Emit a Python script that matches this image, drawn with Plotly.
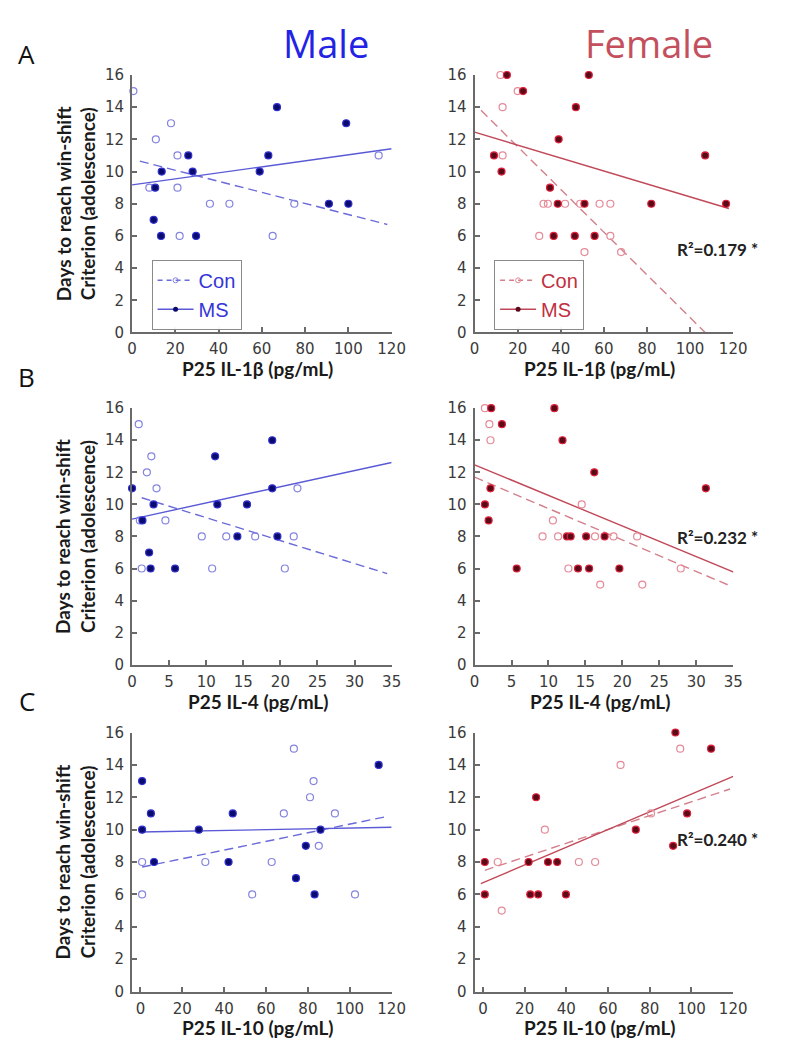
import plotly.graph_objects as go

W, H = 787, 1050

# ---------------- data ----------------
# Panel A : P25 IL-1beta
A_male_con_x = [0.6, 8, 11, 18, 21, 21, 22, 36, 45, 65, 75, 114]
A_male_con_y = [15, 9, 12, 13, 11, 9, 6, 8, 8, 6, 8, 11]
A_male_ms_x = [10, 10.7, 13.4, 13.7, 26, 28, 29.6, 59, 63, 67, 91, 99, 100]
A_male_ms_y = [7, 9, 6, 10, 11, 10, 6, 10, 11, 14, 8, 13, 8]
A_male_con_fit = [3.6, 118, 10.77, -0.0344]   # x start, x end, intercept, slope
A_male_ms_fit = [0, 120, 9.17, 0.0187]

A_female_con_x = [12, 13, 13, 20, 30, 32, 34, 42, 49, 51, 58, 63, 63, 68]
A_female_con_y = [16, 14, 11, 15, 6, 8, 8, 8, 8, 5, 8, 8, 6, 5]
A_female_ms_x = [9, 12.5, 15, 22.5, 35, 36.7, 38.6, 39, 46.5, 47, 51, 53, 55.7, 82, 107, 116.7]
A_female_ms_y = [11, 10, 16, 15, 9, 6, 8, 12, 6, 14, 8, 16, 6, 8, 11, 8]
A_female_con_fit = [3, 107, 14.2, -0.1327]
A_female_ms_fit = [0, 118, 12.45, -0.0402]
A_female_r2 = "R²=0.179 *"

# Panel B : P25 IL-4
B_male_con_x = [0.9, 1.05, 1.3, 2.0, 2.6, 3.3, 4.5, 9.4, 10.8, 12.7, 16.6, 20.6, 21.8, 22.3]
B_male_con_y = [15, 9, 6, 12, 13, 11, 9, 8, 6, 8, 8, 6, 8, 11]
B_male_ms_x = [0, 1.4, 2.3, 2.5, 2.9, 5.8, 11.2, 11.5, 14.2, 15.5, 18.9, 18.9, 19.6]
B_male_ms_y = [11, 9, 7, 6, 10, 6, 13, 10, 8, 10, 14, 11, 8]
B_male_con_fit = [1.3, 34.4, 10.6, -0.143]
B_male_ms_fit = [0, 35, 9.08, 0.101]

B_female_con_x = [1.4, 2.0, 2.15, 9.2, 10.6, 11.3, 12.7, 14.5, 16.3, 17.0, 18.8, 22.0, 22.7, 27.9, 35.2]
B_female_con_y = [16, 15, 14, 8, 9, 8, 6, 10, 8, 5, 8, 8, 5, 6, 11]
B_female_ms_x = [1.4, 1.9, 2.15, 2.25, 3.7, 5.7, 10.8, 11.9, 12.5, 13.0, 14.0, 15.1, 15.5, 16.2, 17.6, 19.6, 31.3]
B_female_ms_y = [10, 9, 11, 16, 15, 6, 16, 14, 8, 8, 6, 8, 6, 12, 8, 6, 11]
B_female_con_fit = [0, 34.8, 11.7, -0.196]
B_female_ms_fit = [0, 35.3, 12.47, -0.191]
B_female_r2 = "R²=0.232 *"

# Panel C : P25 IL-10
C_male_con_x = [0.8, 0.8, 31, 53.4, 62.7, 68.5, 73.3, 81, 82.7, 85.2, 92.9, 102.5]
C_male_con_y = [8, 6, 8, 6, 8, 11, 15, 12, 13, 9, 11, 6]
C_male_ms_x = [0.8, 0.8, 5, 6.5, 27.9, 42.1, 44.1, 74.3, 79, 83.2, 86, 113.8]
C_male_ms_y = [13, 10, 11, 8, 10, 8, 11, 7, 9, 6, 10, 14]
C_male_con_fit = [0.8, 118.5, 7.67, 0.0267]
C_male_ms_fit = [0, 120, 9.85, 0.0025]

C_female_con_x = [7.1, 9, 29.7, 46, 53.8, 66, 80.6, 94.6]
C_female_con_y = [8, 5, 10, 8, 8, 14, 11, 15]
C_female_ms_x = [0.9, 0.9, 21.9, 22.7, 25.5, 26.5, 31.2, 35.6, 39.8, 73.3, 91.2, 92.3, 97.9, 109.4]
C_female_ms_y = [8, 6, 8, 6, 12, 6, 8, 8, 6, 10, 9, 16, 11, 15]
C_female_con_fit = [0.9, 118.5, 7.45, 0.0427]
C_female_ms_fit = [-1, 120, 6.72, 0.0548]
C_female_r2 = "R²=0.240 *"

row_letters = ["A", "B", "C"]
x_titles = ["P25 IL-1β (pg/mL)", "P25 IL-4 (pg/mL)", "P25 IL-10 (pg/mL)"]
x_ranges = [[0, 120], [0, 35], [-4, 120]]
x_ticks = [list(range(0, 121, 20)), list(range(0, 36, 5)), list(range(0, 121, 20))]
y_ticks = list(range(0, 17, 2))
y_title = "<b>Days to reach win-shift<br>Criterion (adolescence)</b>"
sex_titles = ["Male", "Female"]
legend_labels = ["Con", "MS"]

# ---------------- styles / layout geometry ----------------
STY = {
    "male": dict(title="#2323e6", solid="#5a5ad6", dash="#6a6ad8", ms_fill="#0b0b6e",
                 ms_edge="#2f2fd0", con="#8484e0", legend="#3535d8"),
    "female": dict(title="#c4505e", solid="#c04858", dash="#d3808c", ms_fill="#5a0a18",
                   ms_edge="#e0203a", con="#e58a98", legend="#c0303f"),
}

col_px = {"male": (122, 388), "female": (473, 738)}
row_px = [(59, 321), (398, 659), (728, 991.5)]
letter_px = [38, 366, 696]
r2_px = [237, 530, 837]

def fx(p):
    return p / W

def fy(p):
    return 1 - p / H

panels = [
    ("male", 0, A_male_con_x, A_male_con_y, A_male_ms_x, A_male_ms_y, A_male_con_fit, A_male_ms_fit, None),
    ("female", 0, A_female_con_x, A_female_con_y, A_female_ms_x, A_female_ms_y, A_female_con_fit, A_female_ms_fit, A_female_r2),
    ("male", 1, B_male_con_x, B_male_con_y, B_male_ms_x, B_male_ms_y, B_male_con_fit, B_male_ms_fit, None),
    ("female", 1, B_female_con_x, B_female_con_y, B_female_ms_x, B_female_ms_y, B_female_con_fit, B_female_ms_fit, B_female_r2),
    ("male", 2, C_male_con_x, C_male_con_y, C_male_ms_x, C_male_ms_y, C_male_con_fit, C_male_ms_fit, None),
    ("female", 2, C_female_con_x, C_female_con_y, C_female_ms_x, C_female_ms_y, C_female_con_fit, C_female_ms_fit, C_female_r2),
]

fig = go.Figure()
layout = dict(
    width=W, height=H, margin=dict(l=0, r=0, t=0, b=0),
    paper_bgcolor="white", plot_bgcolor="white", showlegend=True,
)
annotations = []

tickfont = dict(family="DejaVu Sans", size=15, color="#3a3a3a")

for i, (sex, row, cx, cy, mx, my, cfit, mfit, r2) in enumerate(panels):
    n = i + 1
    xa = "x" if n == 1 else f"x{n}"
    ya = "y" if n == 1 else f"y{n}"
    s = STY[sex]
    x0p, x1p = col_px[sex]
    y0p, y1p = row_px[row]

    layout["xaxis" if n == 1 else f"xaxis{n}"] = dict(
        domain=[fx(x0p), fx(x1p)], anchor=ya, range=x_ranges[row],
        tickvals=x_ticks[row], showline=True, linecolor="#6a6a6a", linewidth=2,
        ticks="inside", ticklen=5, tickwidth=1.5, tickcolor="#6a6a6a",
        showgrid=False, zeroline=False, tickfont=tickfont, ticklabelstandoff=2,
    )
    layout["yaxis" if n == 1 else f"yaxis{n}"] = dict(
        domain=[fy(y1p), fy(y0p)], anchor=xa, range=[0, 16],
        tickvals=y_ticks, showline=True, linecolor="#6a6a6a", linewidth=2,
        ticks="inside", ticklen=5, tickwidth=1.5, tickcolor="#6a6a6a",
        showgrid=False, zeroline=False, tickfont=tickfont, ticklabelstandoff=3,
    )

    # fit lines
    for fit, dash, col in ((cfit, "9px,5px", s["dash"]), (mfit, "solid", s["solid"])):
        xs = [fit[0], fit[1]]
        ys = [fit[2] + fit[3] * v for v in xs]
        fig.add_trace(go.Scatter(x=xs, y=ys, mode="lines", xaxis=xa, yaxis=ya,
                                 line=dict(color=col, width=1.4, dash=dash),
                                 showlegend=False, hoverinfo="skip", cliponaxis=True))
    # scatter points
    fig.add_trace(go.Scatter(x=cx, y=cy, mode="markers", xaxis=xa, yaxis=ya,
                             marker=dict(symbol="circle-open", size=7, color=s["con"],
                                         line=dict(width=1.2, color=s["con"])),
                             showlegend=False, cliponaxis=False))
    fig.add_trace(go.Scatter(x=mx, y=my, mode="markers", xaxis=xa, yaxis=ya,
                             marker=dict(symbol="circle", size=7, color=s["ms_fill"],
                                         line=dict(width=1.2, color=s["ms_edge"])),
                             showlegend=False, cliponaxis=False))

    # legend entries (row A only)
    if row == 0:
        lg = "legend" if sex == "male" else "legend2"
        fig.add_trace(go.Scatter(x=[None], y=[None], mode="lines+markers", xaxis=xa, yaxis=ya,
                                 name=legend_labels[0], legend=lg,
                                 line=dict(color=s["dash"], width=1.4, dash="5px,4px"),
                                 marker=dict(symbol="circle-open", size=5, color=s["con"])))
        fig.add_trace(go.Scatter(x=[None], y=[None], mode="lines+markers", xaxis=xa, yaxis=ya,
                                 name=legend_labels[1], legend=lg,
                                 line=dict(color=s["solid"], width=1.4),
                                 marker=dict(symbol="circle", size=5, color=s["ms_fill"])))
        layout[lg] = dict(
            x=fx(x0p + 20), y=fy(247), xanchor="left", yanchor="top",
            bordercolor="#8a8a8a", borderwidth=1, bgcolor="rgba(255,255,255,0.95)",
            font=dict(family="Liberation Sans", size=20, color=s["legend"]),
            itemwidth=36, tracegroupgap=0, traceorder="normal",
        )

    # x-axis title
    annotations.append(dict(text=f"<b>{x_titles[row]}</b>", xref="paper", yref="paper",
                            x=fx((x0p + x1p) / 2 - 4), y=fy(y1p + 37), xanchor="center",
                            yanchor="middle", showarrow=False,
                            font=dict(family="Lato", size=19, color="#1a1a1a")))
    if sex == "male":
        annotations.append(dict(text=y_title, xref="paper", yref="paper",
                                x=fx(64), y=fy((y0p + y1p) / 2), textangle=-90,
                                xanchor="center", yanchor="middle", showarrow=False,
                                font=dict(family="Lato", size=19, color="#1a1a1a")))
        annotations.append(dict(text=row_letters[row], xref="paper", yref="paper",
                                x=fx(14), y=fy(letter_px[row]), xanchor="center", yanchor="middle",
                                showarrow=False,
                                font=dict(family="Open Sans", size=26, color="#111111")))
    if r2:
        annotations.append(dict(text=f"<b>{r2}</b>", xref="paper", yref="paper",
                                x=fx(722), y=fy(r2_px[row]),
                                xanchor="center", yanchor="middle", showarrow=False,
                                font=dict(family="Lato", size=17, color="#222222")))

for k, sex in enumerate(["male", "female"]):
    annotations.append(dict(text=sex_titles[k], xref="paper", yref="paper",
                            x=fx([321, 652][k]), y=fy(26), xanchor="center", yanchor="middle",
                            showarrow=False,
                            font=dict(family="Open Sans", size=38, color=STY[sex]["title"])))

layout["annotations"] = annotations
fig.update_layout(**layout)
fig.write_html("out.html")
